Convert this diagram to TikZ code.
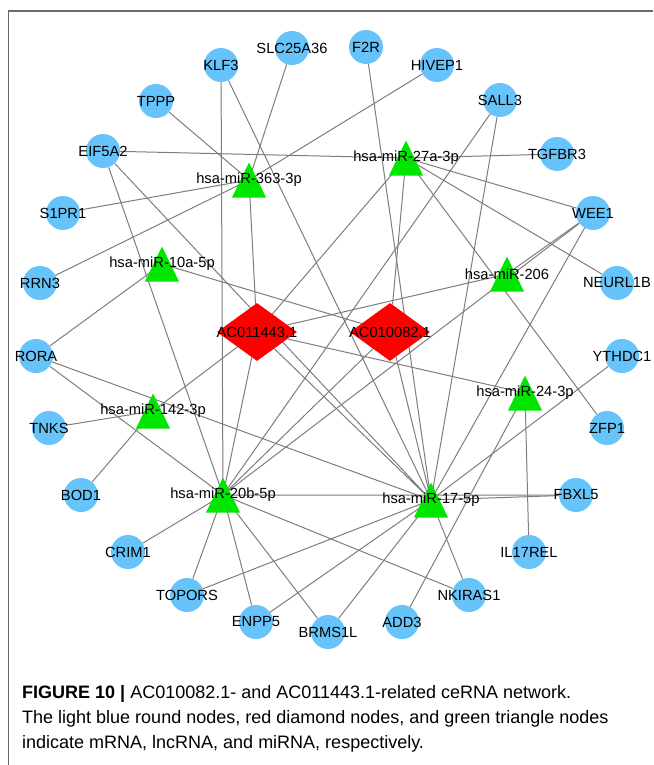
\documentclass[tikz,border=0pt]{standalone}
\usepackage{fontspec}
\setmainfont{Liberation Sans}
\usetikzlibrary{shapes.geometric, backgrounds}
\definecolor{mrnablue}{RGB}{102,196,250}
\definecolor{lncred}{RGB}{255,0,0}
\definecolor{mirgreen}{RGB}{0,230,0}
\definecolor{edgegray}{RGB}{125,125,125}
\definecolor{framegray}{RGB}{105,105,105}
\newcommand{\nodefont}{\fontsize{14.7}{14.7}\selectfont}
\newcommand{\capfont}{\fontsize{18}{25}\selectfont}
\newcommand{\lbl}[1]{\makebox[0pt]{#1}}

\begin{document}
\begin{tikzpicture}[x=1pt, y=-1pt,
  mrna/.style={circle, fill=mrnablue, minimum size=34pt, inner sep=0pt, font=\nodefont},
  mirna/.style={minimum width=34pt, minimum height=35pt, inner sep=0pt, font=\nodefont,
    path picture={\fill[mirgreen] (path picture bounding box.south west)
      -- (path picture bounding box.south east) -- (path picture bounding box.north) -- cycle;}},
  lncrna/.style={diamond, fill=lncred, minimum width=80pt, minimum height=58pt, inner sep=0pt, font=\nodefont},
  edge/.style={draw=edgegray, line width=1pt},
  caption/.style={anchor=base west, inner sep=0pt, font=\capfont}]
  \useasboundingbox (0,0) rectangle (653,765);

  % Frame
  \draw[framegray, line width=1.2pt] (653,11) -- (8.5,11) -- (8.5,765);

  % mRNA ring
  \node[mrna] (slc) at (292,48) {\lbl{SLC25A36}};
  \node[mrna] (klf3) at (221,65) {\lbl{KLF3}};
  \node[mrna] (f2r) at (366,47) {\lbl{F2R}};
  \node[mrna] (hivep) at (437,65) {\lbl{HIVEP1}};
  \node[mrna] (tppp) at (156,101) {\lbl{TPPP}};
  \node[mrna] (sall) at (500,100) {\lbl{SALL3}};
  \node[mrna] (eif) at (103,151) {\lbl{EIF5A2}};
  \node[mrna] (tgf) at (557,154) {\lbl{TGFBR3}};
  \node[mrna] (s1pr) at (63,213) {\lbl{S1PR1}};
  \node[mrna] (wee) at (593,213) {\lbl{WEE1}};
  \node[mrna] (rrn) at (40,283) {\lbl{RRN3}};
  \node[mrna] (neurl) at (617,283) {\lbl{NEURL1B}};
  \node[mrna] (rora) at (36,356) {\lbl{RORA}};
  \node[mrna] (ythdc) at (622,356) {\lbl{YTHDC1}};
  \node[mrna] (tnks) at (49,428) {\lbl{TNKS}};
  \node[mrna] (zfp) at (607,428) {\lbl{ZFP1}};
  \node[mrna] (bod) at (81,495) {\lbl{BOD1}};
  \node[mrna] (fbxl) at (576,495) {\lbl{FBXL5}};
  \node[mrna] (crim) at (128,552) {\lbl{CRIM1}};
  \node[mrna] (il17) at (529,552) {\lbl{IL17REL}};
  \node[mrna] (topors) at (187,595) {\lbl{TOPORS}};
  \node[mrna] (nkiras) at (469,595) {\lbl{NKIRAS1}};
  \node[mrna] (enpp) at (256,622) {\lbl{ENPP5}};
  \node[mrna] (add) at (402,622) {\lbl{ADD3}};
  \node[mrna] (brms) at (328,632) {\lbl{BRMS1L}};

  % miRNAs
  \node[mirna] (m363) at (249,180) {\lbl{hsa-miR-363-3p}};
  \node[mirna] (m10a) at (162,264) {\lbl{hsa-miR-10a-5p}};
  \node[mirna] (m27a) at (406,158) {\lbl{hsa-miR-27a-3p}};
  \node[mirna] (m206) at (507,274) {\lbl{hsa-miR-206}};
  \node[mirna] (m142) at (153,411) {\lbl{hsa-miR-142-3p}};
  \node[mirna] (m20b) at (223,495) {\lbl{hsa-miR-20b-5p}};
  \node[mirna] (m24) at (525,393) {\lbl{hsa-miR-24-3p}};
  \node[mirna] (m17) at (431,500) {\lbl{hsa-miR-17-5p}};

  % lncRNAs
  \node[lncrna] (ac443) at (257,332) {\lbl{AC011443.1}};
  \node[lncrna] (ac082) at (390,332) {\lbl{AC010082.1}};

  % Edges, behind the nodes
  \begin{scope}[on background layer]
    \draw[edge] (m363.center) -- (slc) (m363.center) -- (tppp) (m363.center) -- (hivep)
      (m363.center) -- (s1pr) (m363.center) -- (rrn) (m363.center) -- (ac443);
    \draw[edge] (m10a.center) -- (rora) (m10a.center) -- (ac082);
    \draw[edge] (m27a.center) -- (eif) (m27a.center) -- (tgf) (m27a.center) -- (wee)
      (m27a.center) -- (neurl) (m27a.center) -- (zfp) (m27a.center) -- (ac443)
      (m27a.center) -- (ac082);
    \draw[edge] (m206.center) -- (wee) (m206.center) -- (ac443);
    \draw[edge] (m142.center) -- (tnks) (m142.center) -- (bod) (m142.center) -- (ac443);
    \draw[edge] (m20b.center) -- (klf3) (m20b.center) -- (eif) (m20b.center) -- (rora)
      (m20b.center) -- (crim) (m20b.center) -- (topors) (m20b.center) -- (enpp)
      (m20b.center) -- (brms) (m20b.center) -- (nkiras) (m20b.center) -- (fbxl)
      (m20b.center) -- (sall) (m20b.center) -- (wee) (m20b.center) -- (ac443)
      (m20b.center) -- (ac082);
    \draw[edge] (m24.center) -- (il17) (m24.center) -- (add) (m24.center) -- (ac443);
    \draw[edge] (m17.center) -- (klf3) (m17.center) -- (f2r) (m17.center) -- (eif)
      (m17.center) -- (sall) (m17.center) -- (wee) (m17.center) -- (ythdc)
      (m17.center) -- (rora) (m17.center) -- (fbxl) (m17.center) -- (nkiras)
      (m17.center) -- (brms) (m17.center) -- (enpp) (m17.center) -- (topors)
      (m17.center) -- (ac443) (m17.center) -- (ac082);
  \end{scope}

  % Caption
  \node[caption] (cap1) at (22,698) {\textbf{FIGURE 10 |} AC010082.1- and AC011443.1-related ceRNA network.};
  \node[caption] (cap2) at (22,723) {The light blue round nodes, red diamond nodes, and green triangle nodes};
  \node[caption] (cap3) at (22,748) {indicate mRNA, lncRNA, and miRNA, respectively.};
\end{tikzpicture}
\end{document}
